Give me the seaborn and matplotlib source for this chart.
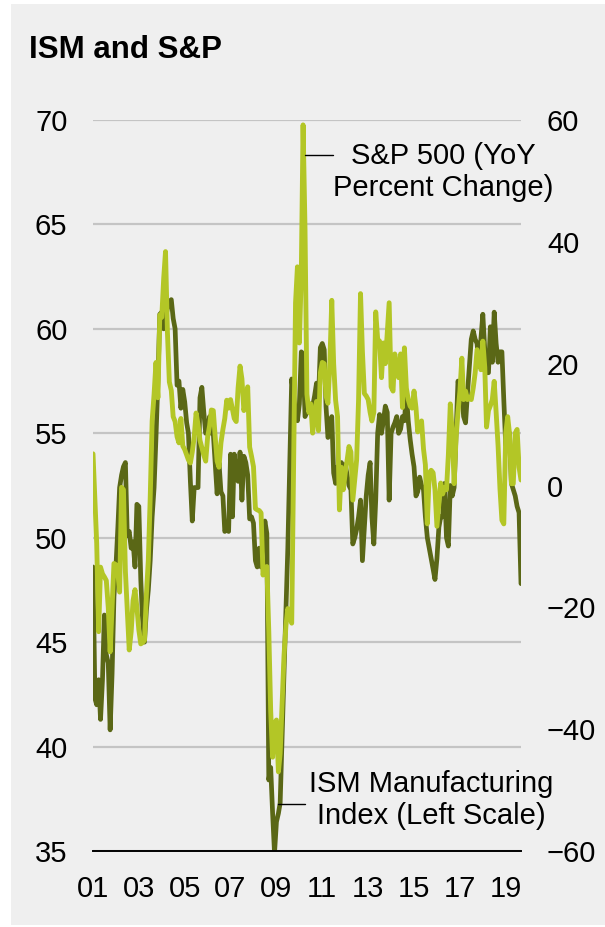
import pandas as pd
import matplotlib.pyplot as plt
from matplotlib.patches import Rectangle
from matplotlib.lines import Line2D
import seaborn as sns

# monthly data, Jan 2001 - Sep 2019
months = pd.date_range('2001-01-01', '2019-09-01', freq='MS')

ism_values = [
    48.6, 42.3, 42.0, 43.2, 41.3, 43.2, 46.3, 44.4, 44.0, 40.8, 43.5, 47.2,  # 2001
    48.6, 50.5, 52.4, 53.0, 53.4, 53.6, 50.1, 50.3, 49.5, 49.8, 48.6, 51.6,  # 2002
    51.5, 48.0, 46.1, 45.0, 46.5, 47.5, 48.9, 51.0, 52.4, 54.8, 57.5, 60.7,  # 2003
    60.8, 60.0, 60.5, 61.0, 61.3, 61.4, 60.5, 60.0, 57.3, 57.5, 56.2, 57.1,  # 2004
    56.5, 55.5, 55.0, 52.7, 50.8, 52.4, 52.4, 52.4, 56.7, 57.2, 56.0, 55.0,  # 2005
    55.2, 55.8, 55.0, 55.0, 53.6, 52.1, 53.6, 52.2, 52.0, 50.3, 50.5, 50.3,  # 2006
    54.0, 51.0, 54.0, 53.0, 52.7, 54.1, 51.8, 53.9, 53.6, 53.0, 50.9, 51.0,  # 2007
    50.7, 48.9, 48.6, 49.5, 48.6, 49.8, 50.8, 50.2, 38.4, 39.0, 36.8, 34.9,  # 2008
    36.4, 36.8, 37.3, 40.5, 43.5, 46.5, 49.5, 53.5, 57.6, 56.8, 56.0, 55.6,  # 2009
    56.4, 58.9, 58.8, 55.8, 56.0, 56.2, 56.4, 56.3, 56.8, 57.4, 56.6, 59.1,  # 2010
    59.3, 59.0, 56.3, 54.8, 55.0, 55.8, 53.1, 52.6, 53.4, 53.0, 53.6, 53.1,  # 2011
    53.5, 53.0, 52.5, 52.3, 49.7, 50.0, 50.4, 51.0, 51.8, 48.9, 50.5, 52.0,  # 2012
    53.0, 53.6, 51.0, 49.7, 51.8, 55.0, 55.9, 55.0, 55.6, 56.3, 56.0, 51.8,  # 2013
    55.0, 55.3, 55.5, 55.8, 55.0, 55.2, 55.8, 55.6, 56.9, 55.6, 54.7, 54.0,  # 2014
    53.4, 52.0, 52.2, 52.9, 52.5, 52.3, 51.0, 50.0, 49.5, 49.0, 48.5, 48.0,  # 2015
    49.0, 50.5, 51.0, 51.0, 52.6, 50.0, 49.6, 52.5, 52.0, 52.4, 55.0, 57.5,  # 2016
    57.2, 56.9, 55.8, 55.5, 56.9, 58.2, 59.5, 59.9, 59.5, 59.3, 58.2, 59.5,  # 2017
    60.7, 59.0, 57.9, 57.9, 60.1, 58.4, 60.8, 59.3, 58.4, 58.9, 58.9, 56.6,  # 2018
    54.4, 55.2, 55.0, 52.6, 52.3, 52.0, 51.5, 51.2, 47.8,                    # 2019
]

sp500_yoy = [
    5.2, -2.4, -9.5, -24.0, -13.4, -14.5, -15.0, -15.6, -20.0, -27.3, -20.0, -12.8,  # 2001
    -13.0, -14.4, -17.5, -0.3, -0.7, -14.1, -20.5, -27.0, -24.0, -18.9, -17.1, -20.0,  # 2002
    -23.7, -26.0, -25.8, -25.4, -18.0, -12.3, -2.1, 10.6, 15.0, 20.2, 14.4, 28.0,  # 2003
    27.6, 34.0, 38.4, 25.0, 17.0, 15.6, 11.3, 10.5, 8.0, 7.0, 11.0, 6.5,  # 2004
    5.9, 5.0, 4.2, 3.7, 5.5, 8.0, 11.9, 10.0, 7.4, 6.2, 5.0, 4.0,  # 2005
    8.0, 9.8, 12.4, 12.3, 8.0, 4.0, 3.0, 7.0, 9.2, 11.0, 14.0, 12.7,  # 2006
    14.1, 12.5, 11.0, 10.5, 16.0, 19.6, 17.5, 12.3, 14.0, 16.2, 6.3, 4.8,  # 2007
    3.1, -3.8, -4.0, -4.1, -4.5, -14.7, -13.5, -13.3, -24.0, -37.0, -44.6, -39.0,  # 2008
    -38.5, -47.0, -44.0, -36.0, -28.0, -23.0, -20.2, -21.5, -22.6, 3.8, 30.0, 35.9,  # 2009
    23.4, 35.0, 59.2, 42.0, 15.0, 12.0, 13.4, 8.6, 12.0, 13.8, 9.0, 18.5,  # 2010
    20.2, 20.0, 14.7, 13.5, 20.0, 30.4, 20.0, 14.0, 11.3, -4.0, 3.0, -0.7,  # 2011
    2.0, 4.2, 6.4, 5.5, -2.4, 1.0, 4.2, 14.1, 31.5, 22.0, 15.1, 14.7,  # 2012
    14.1, 12.0, 10.6, 12.0, 28.5, 24.0, 23.7, 17.7, 23.4, 20.0, 25.0, 30.0,  # 2013
    16.2, 15.5, 21.6, 19.0, 17.7, 21.6, 12.8, 22.6, 16.0, 14.1, 13.0, 12.7,  # 2014
    15.5, 12.8, 8.8, 10.0, 10.6, 6.0, 3.4, -6.3, 2.1, 2.5, 2.1, -0.7,  # 2015
    -6.7, -3.0, 0.4, -1.4, -0.3, -0.7, 5.0, 13.4, 8.6, 0.3, 7.9, 12.0,  # 2016
    15.5, 20.9, 14.1, 15.5, 14.1, 14.5, 14.1, 16.0, 18.5, 22.3, 20.6, 19.0,  # 2017
    23.7, 19.4, 9.6, 12.3, 13.1, 14.1, 17.1, 12.0, 6.5, -0.5, -5.7, -6.3,  # 2018
    8.6, 11.3, 8.6, 0.3, 0.3, 8.6, 9.2, 3.0, 0.9,  # 2019
]

left_ticks = [35, 40, 45, 50, 55, 60, 65, 70]
right_ticks = [-60, -40, -20, 0, 20, 40, 60]
tick_years = ['2001', '2003', '2005', '2007', '2009', '2011', '2013', '2015', '2017', '2019']
tick_labels = ['01', '03', '05', '07', '09', '11', '13', '15', '17', '19']

dark = '#5a6716'
light = '#b3c626'
panel = '#efefef'

sns.set_style('white')
plt.rcParams['font.family'] = ['Liberation Sans', 'DejaVu Sans']
plt.rcParams['text.color'] = 'black'
plt.rcParams['xtick.color'] = 'black'
plt.rcParams['ytick.color'] = 'black'

W, H = 605, 927
fig = plt.figure(figsize=(W / 100, H / 100), dpi=100)
fig.patch.set_facecolor('white')
fig.add_artist(Rectangle((11 / W, 2 / H), 594 / W, 921 / H, transform=fig.transFigure,
                         facecolor=panel, edgecolor='none', zorder=0))

ax = fig.add_axes([93 / W, 1 - 851 / H, (521 - 93) / W, (851 - 120) / H])
ax.set_facecolor(panel)
sns.lineplot(x=months, y=ism_values, ax=ax, color=dark, linewidth=3.4)
ax.set_ylim(35, 70)
ax.set_yticks(left_ticks)
ax.set_xlim(months[0], months[-1])
ax.set_xticks([pd.Timestamp(y + '-01-01') for y in tick_years])
ax.set_xticklabels(tick_labels)
ax.grid(axis='y', color='#c4c4c4', linewidth=1.6)
ax.grid(axis='x', visible=False)
for s in ['top', 'left', 'right']:
    ax.spines[s].set_visible(False)
ax.spines['bottom'].set_color('black')
ax.spines['bottom'].set_linewidth(1.4)
ax.tick_params(axis='y', length=0, pad=18.4, labelsize=21, labelcolor='black')
ax.tick_params(axis='x', length=0, pad=17, labelsize=21, labelcolor='black')
ax.set_xlabel('')
ax.set_ylabel('')

ax2 = ax.twinx()
sns.lineplot(x=months, y=sp500_yoy, ax=ax2, color=light, linewidth=3.5)
ax2.set_ylim(-60, 60)
ax2.set_yticks(right_ticks)
for s in ax2.spines.values():
    s.set_visible(False)
ax2.tick_params(axis='y', length=0, pad=18.7, labelsize=21, labelcolor='black')
ax2.set_ylabel('')

fig.text(29 / W, 1 - 50 / H, 'ISM and S&P', fontsize=22.5, fontweight='bold',
         ha='left', va='center', color='black')

fig.text(443 / W, 1 - 172 / H, 'S&P 500 (YoY\nPercent Change)', fontsize=21,
         ha='center', va='center', linespacing=1.2, color='black')
fig.add_artist(Line2D([305 / W, 333 / W], [1 - 155 / H, 1 - 155 / H],
                      color='black', linewidth=1.0, transform=fig.transFigure))

fig.text(431 / W, 1 - 800 / H, 'ISM Manufacturing\nIndex (Left Scale)', fontsize=21,
         ha='center', va='center', linespacing=1.2, color='black')
fig.add_artist(Line2D([278 / W, 305 / W], [1 - 804 / H, 1 - 804 / H],
                      color='black', linewidth=1.0, transform=fig.transFigure))

fig.savefig('out.png', dpi=100)
